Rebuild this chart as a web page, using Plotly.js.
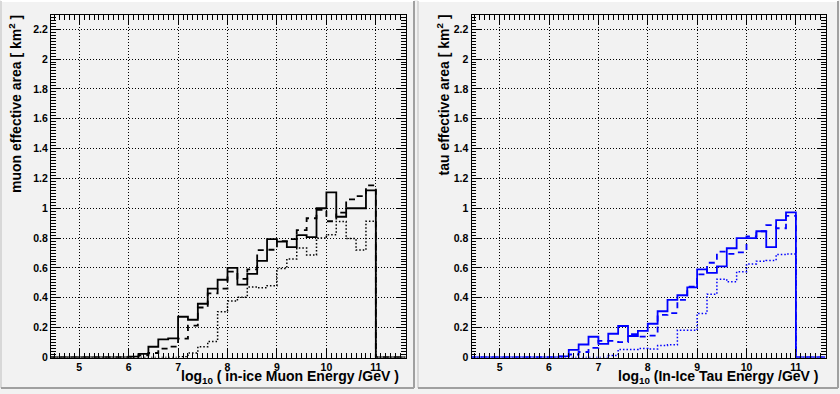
<!DOCTYPE html>
<html>
<head>
<meta charset="utf-8">
<script src="https://cdn.plot.ly/plotly-3.0.1.min.js"></script>
<style>html,body{margin:0;padding:0;background:#f2f2f2;}#chart{width:840px;height:394px;}</style>
</head>
<body>
<div id="chart"></div>
<script>
// Bin edges (log10 energy / GeV), 0.2 wide
const binEdges = [4.4,4.6,4.8,5.0,5.2,5.4,5.6,5.8,6.0,6.2,6.4,6.6,6.8,7.0,7.2,7.4,7.6,7.8,8.0,8.2,8.4,8.6,8.8,9.0,9.2,9.4,9.6,9.8,10.0,10.2,10.4,10.6,10.8,11.0,11.2,11.4,11.6];
const zerosLow = [0,0,0,0,0,0,0,0];   // bins 4.4 - 6.0
const zerosHigh = [0,0,0];            // bins 11.0 - 11.6

// Muon effective area [km^2], bins 6.0 ... 10.8 (lower edges)
const muonSolid  = [0.005,0.024,0.072,0.122,0.128,0.273,0.253,0.36,0.461,0.521,0.60,0.488,0.56,0.647,0.793,0.776,0.74,0.82,0.807,1.0,1.107,0.943,1.0,1.0,1.12];
const muonDashed = [0.0,0.015,0.03,0.06,0.073,0.127,0.214,0.335,0.43,0.462,0.575,0.527,0.59,0.72,0.722,0.78,0.793,0.853,0.933,0.99,0.913,0.971,1.06,1.082,1.153];
const muonDotted = [0,0,0,0,0,0.005,0.03,0.072,0.107,0.307,0.378,0.404,0.473,0.467,0.481,0.597,0.66,0.733,0.687,0.8,0.823,0.912,0.797,0.72,0.913];

// Tau effective area [km^2], bins 6.0 ... 10.8
const tauSolid  = [0,0.008,0.051,0.087,0.139,0.091,0.159,0.211,0.144,0.178,0.226,0.31,0.386,0.417,0.47,0.59,0.567,0.61,0.732,0.8,0.8,0.846,0.739,0.92,0.973];
const tauDashed = [0,0.005,0.02,0.037,0.064,0.112,0.112,0.103,0.156,0.14,0.147,0.285,0.297,0.386,0.475,0.557,0.635,0.71,0.695,0.705,0.812,0.846,0.887,0.866,0.949];
const tauDotted = [0,0,0,0,0,0,0.013,0.054,0.054,0.06,0.057,0.08,0.085,0.183,0.183,0.295,0.424,0.525,0.507,0.574,0.627,0.645,0.65,0.69,0.694];

const xTickVals = [5,6,7,8,9,10,11];
const yTickVals = [0,0.2,0.4,0.6,0.8,1,1.2,1.4,1.6,1.8,2,2.2];
const yTickText = ['0','0.2','0.4','0.6','0.8','1','1.2','1.4','1.6','1.8','2','2.2'];

const W = 840, H = 394;
const px = v => v / W;
const py = v => 1 - v / H;

function stepY(vals) {
  const full = zerosLow.concat(vals, zerosHigh);
  return full.concat([full[full.length - 1]]);
}
function hist(vals, color, dash, width, xa, ya) {
  return {
    type: 'scatter', mode: 'lines', x: binEdges, y: stepY(vals),
    line: {shape: 'hv', color: color, dash: dash, width: width},
    xaxis: xa, yaxis: ya, cliponaxis: false, hoverinfo: 'skip', showlegend: false
  };
}

const traces = [
  hist(muonDotted, '#000000', '1.5px,2px', 1.5, 'x', 'y'),
  hist(muonDashed, '#000000', '6px,5px', 1.8, 'x', 'y'),
  hist(muonSolid,  '#000000', 'solid', 1.8, 'x', 'y'),
  hist(tauDotted, '#0000ff', '1.5px,2px', 1.5, 'x2', 'y2'),
  hist(tauDashed, '#0000ff', '6px,5px', 1.8, 'x2', 'y2'),
  hist(tauSolid,  '#0000ff', 'solid', 1.8, 'x2', 'y2')
];

const tickFont = {family: 'Liberation Sans, Arial, sans-serif', size: 10.5, color: '#000', weight: 'bold'};
function xAxis(d0, d1, anchor) {
  return {
    domain: [px(d0), px(d1)], anchor: anchor, range: [4.43, 11.6],
    tickvals: xTickVals, ticktext: xTickVals.map(String),
    ticks: 'inside', ticklen: 9, tickcolor: '#000', tickwidth: 1,
    minor: {dtick: 0.1, tick0: 0, ticks: 'inside', ticklen: 5, tickcolor: '#000', showgrid: false},
    showline: true, linecolor: '#000', linewidth: 1, mirror: 'allticks', zeroline: false,
    showgrid: true, gridcolor: '#000', griddash: '1px,2px', gridwidth: 1,
    tickfont: tickFont, fixedrange: true
  };
}
function yAxis(anchor) {
  return {
    domain: [py(357.5), py(15)], anchor: anchor, range: [0, 2.295],
    tickvals: yTickVals, ticktext: yTickText,
    ticks: 'inside', ticklen: 9, tickcolor: '#000', tickwidth: 1,
    minor: {dtick: 0.02, tick0: 0, ticks: 'inside', ticklen: 4.5, tickcolor: '#000', showgrid: false},
    showline: true, linecolor: '#000', linewidth: 1, mirror: 'allticks', zeroline: false,
    showgrid: true, gridcolor: '#000', griddash: '1px,2px', gridwidth: 1,
    tickfont: tickFont, fixedrange: true
  };
}

const bevel = (x0, y0, x1, y1) => [
  {type: 'line', xref: 'paper', yref: 'paper', x0: px(x0), y0: py(y0), x1: px(x1), y1: py(y0), line: {color: '#ffffff', width: 2}, layer: 'below'},
  {type: 'line', xref: 'paper', yref: 'paper', x0: px(x0), y0: py(y0), x1: px(x0), y1: py(y1), line: {color: '#d8d8d8', width: 2}, layer: 'below'},
  {type: 'line', xref: 'paper', yref: 'paper', x0: px(x1), y0: py(y0), x1: px(x1), y1: py(y1), line: {color: '#a0a0a0', width: 2}, layer: 'below'},
  {type: 'line', xref: 'paper', yref: 'paper', x0: px(x0), y0: py(y1), x1: px(x1), y1: py(y1), line: {color: '#a0a0a0', width: 2}, layer: 'below'}
];

const titleFont = {family: 'Liberation Sans, Arial, sans-serif', size: 14, color: '#000', weight: 'bold'};
const annotations = [
  {text: 'muon effective area [ km<sup>2</sup> ]', textangle: -90, xref: 'paper', yref: 'paper', x: px(15), y: py(13), xanchor: 'center', yanchor: 'top', showarrow: false, font: titleFont},
  {text: 'log<sub>10</sub> ( in-ice Muon Energy /GeV )', xref: 'paper', yref: 'paper', x: px(401), y: py(377), xanchor: 'right', yanchor: 'middle', showarrow: false, font: titleFont},
  {text: 'tau effective area [ km<sup>2</sup> ]', textangle: -90, xref: 'paper', yref: 'paper', x: px(443), y: py(13), xanchor: 'center', yanchor: 'top', showarrow: false, font: titleFont},
  {text: 'log<sub>10</sub> (In-Ice Tau Energy /GeV )', xref: 'paper', yref: 'paper', x: px(820), y: py(377), xanchor: 'right', yanchor: 'middle', showarrow: false, font: titleFont}
];

const layout = {
  width: W, height: H, margin: {l: 0, r: 0, t: 0, b: 0},
  paper_bgcolor: '#f2f2f2', plot_bgcolor: '#f2f2f2',
  showlegend: false,
  xaxis: xAxis(51, 405.5, 'y'),
  yaxis: yAxis('x'),
  xaxis2: xAxis(471.5, 825.5, 'y2'),
  yaxis2: yAxis('x2'),
  shapes: [].concat(bevel(1, 1, 414, 388), bevel(418, 1, 838, 388)),
  annotations: annotations
};

Plotly.newPlot('chart', traces, layout, {staticPlot: true, displayModeBar: false});
</script>
</body>
</html>
